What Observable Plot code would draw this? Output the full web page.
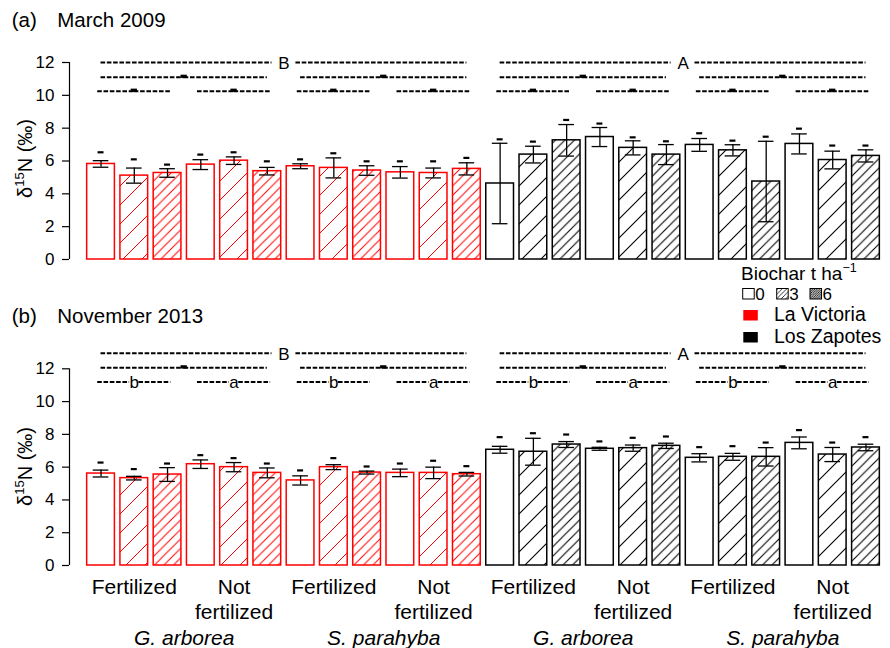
<!DOCTYPE html>
<html><head><meta charset="utf-8">
<script src="https://cdn.jsdelivr.net/npm/d3@7"></script>
<script src="https://cdn.jsdelivr.net/npm/@observablehq/plot@0.6"></script>
<style>
html,body{margin:0;padding:0;background:#fff;}
#wrap{position:relative;width:890px;height:648px;overflow:hidden;font-family:"Liberation Sans",Arial,Helvetica,sans-serif;}
#wrap > svg{position:absolute;left:0;overflow:visible;}
</style></head><body><div id="wrap"></div>
<script>
// ---------- data ----------
const sites = ["La Victoria", "Los Zapotes"];
const speciesNames = ["G. arborea", "S. parahyba"];
const fertNames = ["Fertilized", "Not fertilized"];
const biocharRates = [0, 3, 6];

// March 2009 (order: site > species > fertilization > biochar)
const mar2009Mean = [5.82, 5.11, 5.27, 5.78, 6.02, 5.38, 5.68, 5.58, 5.42, 5.31, 5.27, 5.52,
                     4.63, 6.39, 7.26, 7.46, 6.80, 6.39, 6.98, 6.65, 4.75, 7.04, 6.06, 6.31];
const mar2009SE   = [0.20, 0.46, 0.26, 0.30, 0.23, 0.23, 0.15, 0.61, 0.29, 0.35, 0.30, 0.37,
                     2.45, 0.51, 0.96, 0.58, 0.43, 0.61, 0.39, 0.34, 2.45, 0.61, 0.54, 0.37];
const mar2009LetterAt = [6.53, 6.10, 5.78, 6.39, 6.53, 5.98, 6.10, 6.47, 5.98, 5.98, 5.98, 6.19,
                         7.32, 7.18, 8.50, 8.28, 7.44, 7.20, 7.69, 7.24, 7.48, 7.97, 6.94, 6.94];
const mar2009SiteLetters = ["B", "A"];
const mar2009SpeciesLetters = ["", "", "", ""];
const mar2009FertLetters = ["", "", "", "", "", "", "", ""];

// November 2013
const nov2013Mean = [5.61, 5.33, 5.55, 6.18, 6.00, 5.65, 5.19, 6.00, 5.67, 5.65, 5.65, 5.57,
                     7.06, 6.94, 7.38, 7.12, 7.16, 7.30, 6.57, 6.63, 6.63, 7.48, 6.77, 7.20];
const nov2013SE   = [0.21, 0.11, 0.42, 0.26, 0.28, 0.30, 0.28, 0.15, 0.09, 0.23, 0.35, 0.11,
                     0.21, 0.82, 0.18, 0.09, 0.19, 0.16, 0.25, 0.21, 0.56, 0.36, 0.43, 0.20];
const nov2013LetterAt = [6.28, 5.88, 6.22, 6.73, 6.55, 6.22, 5.80, 6.55, 6.04, 6.22, 6.39, 6.06,
                         7.83, 8.07, 7.99, 7.57, 7.79, 7.87, 7.22, 7.28, 7.50, 8.26, 7.50, 7.83];
const nov2013SiteLetters = ["B", "A"];
const nov2013SpeciesLetters = ["", "", "", ""];
const nov2013FertLetters = ["b", "a", "b", "a", "b", "a", "b", "a"];

const yTicks = [0, 2, 4, 6, 8, 10, 12];

// ---------- styling ----------
const siteColor = ["#ff0000", "#000000"];
const hatchSize = [0, 19, 9.5];
const FONT = '"Liberation Sans", Arial, Helvetica, sans-serif';

function buildBars(means, ses, tops) {
  const out = [];
  let i = 0;
  sites.forEach((site, s) => speciesNames.forEach((sp, p) => fertNames.forEach((f, k) => biocharRates.forEach((b, j) => {
    out.push({i, site: s, species: p, fert: k, bi: j, mean: means[i], se: ses[i], top: tops[i]});
    i++;
  }))));
  return out;
}

function addPatterns(svgEl, id) {
  const defs = d3.select(svgEl).insert("defs", ":first-child");
  siteColor.forEach((col, s) => {
    [1, 2].forEach(bi => {
      const n = hatchSize[bi];
      const p = defs.append("pattern").attr("id", `${id}-s${s}-b${bi}`)
        .attr("patternUnits", "userSpaceOnUse").attr("width", n).attr("height", n);
      p.append("rect").attr("width", n).attr("height", n).attr("fill", "white");
      p.append("path")
        .attr("d", `M${-n/4},${n/4}L${n/4},${-n/4}M0,${n}L${n},0M${3*n/4},${5*n/4}L${5*n/4},${3*n/4}`)
        .attr("stroke", col).attr("stroke-width", s === 0 ? 1 : 1.1);
    });
  });
}

function panel(cfg) {
  const {bars, siteLetters, speciesLetters, fertLetters, rows, height, marginTop, marginBottom, showX, id} = cfg;
  const xMin = -0.448;
  const off = 0.083;
  const segs = [], letters = [], bold = [];
  function addGroup(c, hw, letter, y) {
    let g = 0;
    if (letter) {
      g = letter === letter.toUpperCase() ? 0.36 : 0.14;
      letters.push({x: c, y, text: letter, upper: letter === letter.toUpperCase()});
    } else {
      bold.push({x1: c - 0.095, x2: c + 0.095, y});
    }
    segs.push({x1: c - hw, x2: c - g, y});
    segs.push({x1: c + g, x2: c + hw, y});
  }
  siteLetters.forEach((L, g) => addGroup(g * 12 + 6, 5.5, L, rows[0]));
  speciesLetters.forEach((L, g) => addGroup(g * 6 + 3, 2.5, L, rows[1]));
  fertLetters.forEach((L, g) => addGroup(g * 3 + 1.5, 1.1, L, rows[2]));

  const marks = [
    Plot.rect(bars, {
      x1: d => d.i + off, x2: d => d.i + 1 - off, y1: 0, y2: "mean",
      fill: d => d.bi === 0 ? "white" : `url(#${id}-s${d.site}-b${d.bi})`,
      stroke: d => siteColor[d.site], strokeWidth: 1.5
    }),
    Plot.ruleX(bars, {x: d => d.i + 0.5, y1: d => d.mean - d.se, y2: d => d.mean + d.se, stroke: "black", strokeWidth: 1.3}),
    Plot.ruleY(bars, {x1: d => d.i + 0.265, x2: d => d.i + 0.735, y: d => d.mean + d.se, stroke: "black", strokeWidth: 1.3}),
    Plot.ruleY(bars, {x1: d => d.i + 0.265, x2: d => d.i + 0.735, y: d => d.mean - d.se, stroke: "black", strokeWidth: 1.3}),
    Plot.ruleY(bars, {x1: d => d.i + 0.41, x2: d => d.i + 0.59, y: "top", stroke: "black", strokeWidth: 2.2}),
    Plot.ruleY(segs, {x1: "x1", x2: "x2", y: "y", stroke: "black", strokeWidth: 2, strokeDasharray: "4.6,1.7"}),
    Plot.ruleY(bold, {x1: "x1", x2: "x2", y: "y", stroke: "black", strokeWidth: 3.2, dy: -1}),
    Plot.text(letters.filter(d => d.upper), {x: "x", y: "y", text: "text", fontSize: 17, lineAnchor: "bottom", dy: 6.8, fill: "black"}),
    Plot.text(letters.filter(d => !d.upper), {x: "x", y: "y", text: "text", fontSize: 17, lineAnchor: "bottom", dy: 6.5, fill: "black"}),
    Plot.axisY({ticks: yTicks, tickSize: 7, tickPadding: 8, fontSize: 17, label: null, strokeWidth: 1.2}),
    Plot.ruleX([xMin], {y1: 0, y2: 12, stroke: "black", strokeWidth: 1.2})
  ];
  if (showX) {
    const fertGroups = [], spGroups = [];
    for (let s = 0; s < 2; s++) for (let p = 0; p < 2; p++) {
      spGroups.push({x: (s * 2 + p) * 6 + 3, text: speciesNames[p]});
      for (let k = 0; k < 2; k++) {
        const words = fertNames[k].split(" ");
        fertGroups.push({x: ((s * 2 + p) * 2 + k) * 3 + 1.5, l1: words[0], l2: words.slice(1).join(" ")});
      }
    }
    marks.push(
      Plot.text(fertGroups, {x: "x", text: "l1", frameAnchor: "bottom", lineAnchor: "bottom", dy: 28.7, fontSize: 21, fill: "black"}),
      Plot.text(fertGroups, {x: "x", text: "l2", frameAnchor: "bottom", lineAnchor: "bottom", dy: 53.3, fontSize: 21, fill: "black"}),
      Plot.text(spGroups, {x: "x", text: "text", frameAnchor: "bottom", lineAnchor: "bottom", dy: 79.5, fontSize: 21, fontStyle: "italic", fill: "black"})
    );
  }
  const svg = Plot.plot({
    width: 890, height, marginLeft: 69, marginRight: 7.9, marginTop, marginBottom,
    x: {domain: [xMin, 24], axis: null},
    y: {domain: [0, 12], axis: null},
    color: {type: "identity"},
    style: {fontFamily: FONT, fontSize: "17px", background: "transparent", color: "black", overflow: "visible"},
    marks
  });
  addPatterns(svg, id);
  return svg;
}

const wrap = document.getElementById("wrap");

const pa = panel({bars: buildBars(mar2009Mean, mar2009SE, mar2009LetterAt),
  siteLetters: mar2009SiteLetters, speciesLetters: mar2009SpeciesLetters, fertLetters: mar2009FertLetters,
  rows: [12.0, 11.1, 10.25], height: 230, marginTop: 22, marginBottom: 11, showX: false, id: "pa"});
pa.style.top = "40px";
wrap.appendChild(pa);

const pb = panel({bars: buildBars(nov2013Mean, nov2013SE, nov2013LetterAt),
  siteLetters: nov2013SiteLetters, speciesLetters: nov2013SpeciesLetters, fertLetters: nov2013FertLetters,
  rows: [12.95, 12.06, 11.2], height: 318, marginTop: 38.3, marginBottom: 83, showX: true, id: "pb"});
pb.style.top = "330px";
wrap.appendChild(pb);

// ---------- titles, y labels, legend (overlay) ----------
const ov = d3.select(wrap).append("svg").attr("width", 890).attr("height", 648)
  .style("top", "0px").style("pointer-events", "none")
  .attr("font-family", FONT).attr("fill", "black");

const titles = [{tag: "(a)", text: "March 2009", y: 27.3}, {tag: "(b)", text: "November 2013", y: 322.7}];
titles.forEach(t => {
  ov.append("text").attr("x", 11.7).attr("y", t.y).attr("font-size", 20.5).text(t.tag);
  ov.append("text").attr("x", 57.3).attr("y", t.y).attr("font-size", 20.5).text(t.text);
});

[158.5, 466.5].forEach(cy => {
  const tx = ov.append("text").attr("transform", `translate(31.7,${cy}) rotate(-90)`)
    .attr("text-anchor", "middle").attr("font-size", 20);
  tx.append("tspan").text("δ");
  tx.append("tspan").attr("font-size", 13).attr("dy", -8).text("15");
  tx.append("tspan").attr("dy", 8).text("N (‰)");
});

// legend
const lg = ov.append("g");
const defs = lg.append("defs");
[[1, 4.5], [2, 2.3]].forEach(([bi, n]) => {
  const p = defs.append("pattern").attr("id", `lg-b${bi}`).attr("patternUnits", "userSpaceOnUse")
    .attr("width", n).attr("height", n);
  p.append("rect").attr("width", n).attr("height", n).attr("fill", "white");
  p.append("path").attr("d", `M${-n/4},${n/4}L${n/4},${-n/4}M0,${n}L${n},0M${3*n/4},${5*n/4}L${5*n/4},${3*n/4}`)
    .attr("stroke", "black").attr("stroke-width", 0.8);
});
const lt = lg.append("text").attr("x", 741).attr("y", 280).attr("font-size", 19);
lt.append("tspan").text("Biochar t ha");
lt.append("tspan").attr("font-size", 12.5).attr("dy", -8).text("−1");
const swX = [742.7, 776.7, 810];
biocharRates.forEach((b, j) => {
  lg.append("rect").attr("x", swX[j]).attr("y", 288.5).attr("width", 11.5).attr("height", 10.5)
    .attr("fill", j === 0 ? "white" : `url(#lg-b${j})`).attr("stroke", "black").attr("stroke-width", 1);
  lg.append("text").attr("x", swX[j] + 12.5).attr("y", 299.6).attr("font-size", 17).text(String(b));
});
sites.forEach((s, k) => {
  const y = [321, 343][k];
  lg.append("rect").attr("x", 743.3).attr("y", y - 11).attr("width", 14.5).attr("height", 10.5).attr("fill", siteColor[k]);
  lg.append("text").attr("x", 774).attr("y", y).attr("font-size", 19.5).text(s);
});
</script></body></html>
